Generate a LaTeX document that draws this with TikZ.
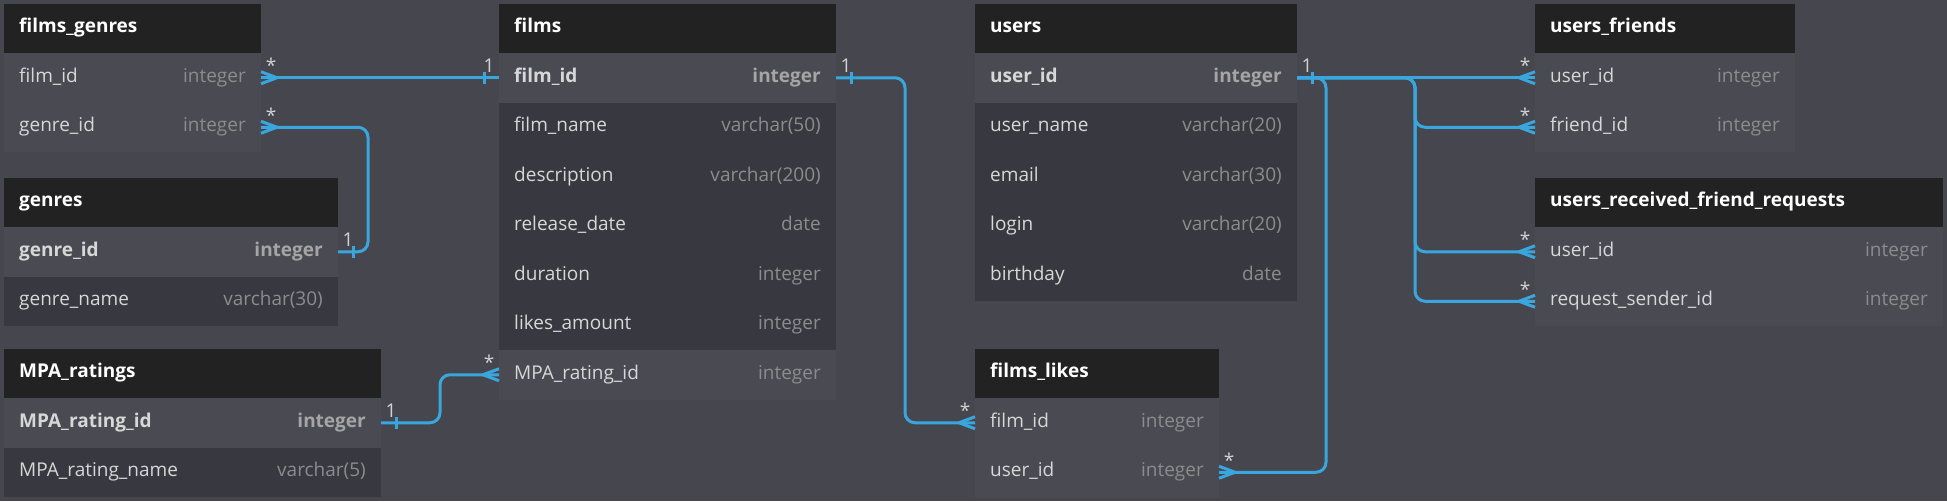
\documentclass[tikz,border=0pt]{standalone}
\usepackage{fontspec}
\setmainfont{Open Sans}
\usetikzlibrary{calc}
\definecolor{bgc}{RGB}{70,70,78}
\definecolor{hdrc}{RGB}{34,34,34}
\definecolor{lightrow}{RGB}{74,74,82}
\definecolor{darkrow}{RGB}{56,56,64}
\definecolor{nametxt}{RGB}{215,215,215}
\definecolor{typetxt}{RGB}{140,140,140}
\definecolor{pktype}{RGB}{165,165,165}
\definecolor{relc}{RGB}{58,166,222}
\definecolor{labc}{RGB}{210,210,210}
\newcommand\erfont{\fontsize{19pt}{22pt}\selectfont}
\tikzset{
  hdr/.style={fill=hdrc, draw=none, minimum height=49pt, inner sep=0pt, outer sep=0pt},
  ttl/.style={inner sep=0pt, text=white, font=\erfont\bfseries},
  rowbox/.style={draw=none, minimum height=49.5pt, inner sep=0pt, outer sep=0pt},
  pkrow/.style={fill=lightrow},
  fkrow/.style={fill=lightrow},
  plrow/.style={fill=darkrow},
  pkrow name/.style={font=\erfont\bfseries, text=nametxt},
  fkrow name/.style={font=\erfont, text=nametxt},
  plrow name/.style={font=\erfont, text=nametxt},
  pkrow type/.style={font=\erfont\bfseries, text=pktype},
  fkrow type/.style={font=\erfont, text=typetxt},
  plrow type/.style={font=\erfont, text=typetxt},
  fld/.style={inner sep=0pt},
  typ/.style={inner sep=0pt},
  rel/.style={draw=relc, line width=3pt, line join=round},
  mlab/.style={inner sep=0pt, text=labc, font=\erfont},
}
\newcommand\ertable[5]{%
  \node[hdr, minimum width=#4pt, anchor=north west] (#1) at (#2,#3) {};
  \node[ttl, anchor=base west] (#1-title) at ({#2+15},{#3+28.5}) {#5};
}
\newcommand\errow[7]{%
  \node[rowbox, #5, minimum width=#4pt, anchor=north west] (#1) at (#2,#3) {};
  \node[fld, #5 name, anchor=base west] (#1-f) at ({#2+15},{#3+29}) {#6};
  \node[typ, #5 type, anchor=base east] (#1-t) at ({#2+#4-15},{#3+29}) {#7};
}
\newcommand\crowE[1]{\draw[rel] ([yshift=6pt]#1.east) -- ([xshift=16pt]#1.east) -- ([yshift=-6pt]#1.east);}
\newcommand\crowW[1]{\draw[rel] ([yshift=6pt]#1.west) -- ([xshift=-16pt]#1.west) -- ([yshift=-6pt]#1.west);}
\newcommand\tickE[1]{\draw[rel] ([xshift=15pt,yshift=6pt]#1.east) -- ([xshift=15pt,yshift=-6pt]#1.east);}
\newcommand\tickW[1]{\draw[rel] ([xshift=-15pt,yshift=6pt]#1.west) -- ([xshift=-15pt,yshift=-6pt]#1.west);}
\newcommand\labE[3]{\node[mlab, anchor=base] (#3) at ([xshift=10pt,yshift=5pt]#1.east) {#2};}
\newcommand\labW[3]{\node[mlab, anchor=base] (#3) at ([xshift=-10pt,yshift=5pt]#1.west) {#2};}
\begin{document}
\begin{tikzpicture}[x=1pt,y=-1pt]
\fill[bgc] (0,0) rectangle (1947,501);
\useasboundingbox (0,0) rectangle (1947,501);

% films_genres
\ertable{fg}{4}{4}{257}{films\_genres}
\errow{fg1}{4}{53}{257}{fkrow}{film\_id}{integer}
\errow{fg2}{4}{102.5}{257}{fkrow}{genre\_id}{integer}

% genres
\ertable{g}{4}{178}{334}{genres}
\errow{g1}{4}{227}{334}{pkrow}{genre\_id}{integer}
\errow{g2}{4}{276.5}{334}{plrow}{genre\_name}{varchar(30)}

% MPA_ratings
\ertable{m}{4}{349}{377}{MPA\_ratings}
\errow{m1}{4}{398}{377}{pkrow}{MPA\_rating\_id}{integer}
\errow{m2}{4}{447.5}{377}{plrow}{MPA\_rating\_name}{varchar(5)}

% films
\ertable{f}{499}{4}{337}{films}
\errow{f1}{499}{53}{337}{pkrow}{film\_id}{integer}
\errow{f2}{499}{102.5}{337}{plrow}{film\_name}{varchar(50)}
\errow{f3}{499}{152}{337}{plrow}{description}{varchar(200)}
\errow{f4}{499}{201.5}{337}{plrow}{release\_date}{date}
\errow{f5}{499}{251}{337}{plrow}{duration}{integer}
\errow{f6}{499}{300.5}{337}{plrow}{likes\_amount}{integer}
\errow{f7}{499}{350}{337}{fkrow}{MPA\_rating\_id}{integer}

% users
\ertable{u}{975}{4}{322}{users}
\errow{u1}{975}{53}{322}{pkrow}{user\_id}{integer}
\errow{u2}{975}{102.5}{322}{plrow}{user\_name}{varchar(20)}
\errow{u3}{975}{152}{322}{plrow}{email}{varchar(30)}
\errow{u4}{975}{201.5}{322}{plrow}{login}{varchar(20)}
\errow{u5}{975}{251}{322}{plrow}{birthday}{date}

% films_likes
\ertable{fl}{975}{349}{244}{films\_likes}
\errow{fl1}{975}{398}{244}{fkrow}{film\_id}{integer}
\errow{fl2}{975}{447.5}{244}{fkrow}{user\_id}{integer}

% users_friends
\ertable{uf}{1535}{4}{260}{users\_friends}
\errow{uf1}{1535}{53}{260}{fkrow}{user\_id}{integer}
\errow{uf2}{1535}{102.5}{260}{fkrow}{friend\_id}{integer}

% users_received_friend_requests
\ertable{ur}{1535}{178}{408}{users\_received\_friend\_requests}
\errow{ur1}{1535}{227}{408}{fkrow}{user\_id}{integer}
\errow{ur2}{1535}{276.5}{408}{fkrow}{request\_sender\_id}{integer}

% relations
\draw[rel] (fg1.east) -- (f1.west);
\draw[rel, rounded corners=10pt] (fg2.east) -| ([xshift=30pt]g1.east) -- (g1.east);
\draw[rel, rounded corners=10pt] (m1.east) -| ([xshift=-59pt]f7.west) -- (f7.west);
\draw[rel, rounded corners=10pt] (f1.east) -| ([xshift=-70pt]fl1.west) -- (fl1.west);
\draw[rel, rounded corners=10pt] (u1.east) -| ([xshift=107pt]fl2.east) -- (fl2.east);
\draw[rel] (u1.east) -- (uf1.west);
\draw[rel, rounded corners=10pt] (u1.east) -| ([xshift=-120pt]uf2.west) -- (uf2.west);
\draw[rel, rounded corners=10pt] (u1.east) -| ([xshift=-120pt]ur1.west) -- (ur1.west);
\draw[rel, rounded corners=10pt] (u1.east) -| ([xshift=-120pt]ur2.west) -- (ur2.west);

% ends
\crowE{fg1} \crowE{fg2} \crowW{f7} \crowW{fl1} \crowE{fl2}
\crowW{uf1} \crowW{uf2} \crowW{ur1} \crowW{ur2}
\tickW{f1} \tickE{f1} \tickE{g1} \tickE{m1} \tickE{u1}

% labels
\labE{fg1}{*}{l1} \labE{fg2}{*}{l2} \labW{f1}{1}{l3} \labE{g1}{1}{l4}
\labE{m1}{1}{l5} \labW{f7}{*}{l6} \labE{f1}{1}{l7} \labW{fl1}{*}{l8}
\labE{fl2}{*}{l9} \labE{u1}{1}{l10} \labW{uf1}{*}{l11} \labW{uf2}{*}{l12}
\labW{ur1}{*}{l13} \labW{ur2}{*}{l14}
\end{tikzpicture}
\end{document}
